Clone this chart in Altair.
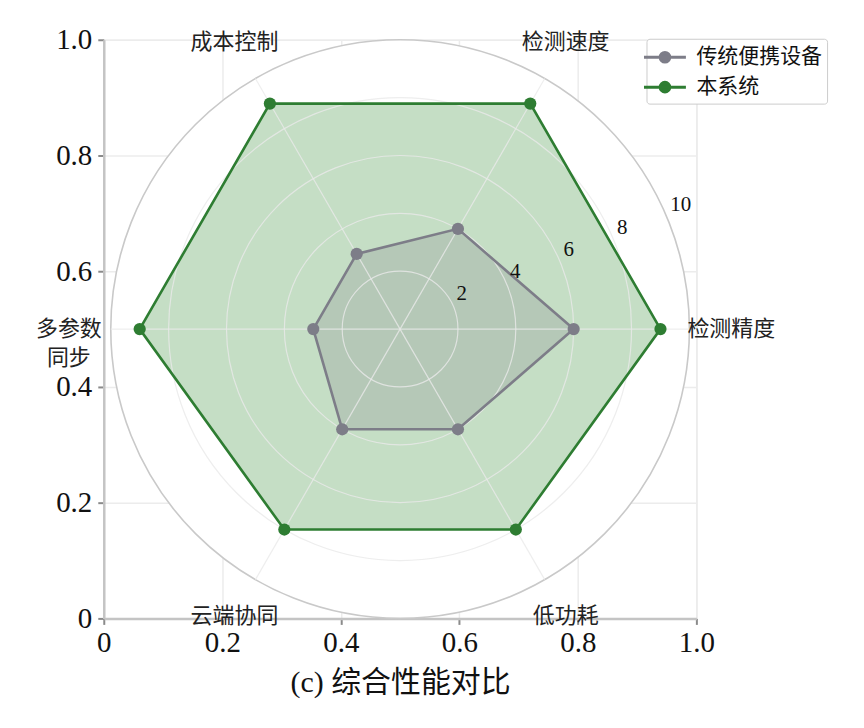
import altair as alt
import pandas as pd

# ---------------- data ----------------
categories = ["检测精度", "检测速度", "成本控制", "多参数\n同步", "云端协同", "低功耗"]
series_names = ["传统便携设备", "本系统"]
traditional = [6, 4, 3, 3, 4, 4]
ours = [9, 9, 9, 9, 8, 8]
radial_ticks = [2, 4, 6, 8, 10]
axis_ticks = [0, 0.2, 0.4, 0.6, 0.8, 1.0]
r_max = 10
chart_title = "(c) 综合性能对比"

# ---------------- style ----------------
W, H = 594, 580
R = 290          # polar radius (px)
LBL = 332        # category label radius (px)
kx, ky = R / W, R / H
N = len(categories)
line_colors = ["#7d7d88", "#2e7d32"]
fill_colors = ["#80808a", "#3e913e"]
SERIF = "Liberation Serif, Noto Sans CJK SC"
CJK = "Noto Sans CJK SC"

rows = []
for name, vals in zip(series_names, [traditional, ours]):
    for i, v in enumerate(vals):
        rows.append({"series": name, "idx": i, "value": v})
df = pd.DataFrame(rows)
cat_df = pd.DataFrame({"idx": list(range(N)), "label": categories})
tick_df = pd.DataFrame({"r": radial_ticks})

label_expr = "datum.value == 0 ? '0' : format(datum.value, '.1f')"
common_axis = dict(
    values=axis_ticks, labelExpr=label_expr, labelFont="Liberation Serif",
    labelFontSize=29, labelColor="#111111", tickSize=6, tickColor="#8a8a8a",
    tickWidth=2, domainColor="#c4c4c4", domainWidth=2.5, grid=True,
    gridColor="#ececec", gridWidth=1.5, labelFlush=False,
)
xaxis = alt.Axis(title=chart_title, titleFont=SERIF, titleFontSize=30,
                 titleFontWeight="normal", titleColor="#111111", titlePadding=10,
                 labelPadding=4, **common_axis)
yaxis = alt.Axis(title=None, labelPadding=6, **common_axis)
xs = alt.Scale(domain=[0, 1], nice=False, zero=False)
ys = alt.Scale(domain=[0, 1], nice=False, zero=False)
X = alt.X("x:Q", scale=xs, axis=xaxis)
Y = alt.Y("y:Q", scale=ys, axis=yaxis)

theta_expr = f"datum.idx * 2 * PI / {N}"
px_expr = f"0.5 + datum.value / {r_max} * {kx} * cos(datum.theta)"
py_expr = f"0.5 + datum.value / {r_max} * {ky} * sin(datum.theta)"
size_expr = f"pow(2 * datum.r / {r_max} * {R}, 2)"

# background polar disc (covers cartesian grid)
bg = alt.Chart(tick_df).transform_filter(f"datum.r == {r_max}").transform_calculate(
    x="0.5", y="0.5", sz=size_expr
).mark_circle(color="white", stroke="#c9c9c9", strokeWidth=1.6, opacity=1).encode(
    x=X, y=Y, size=alt.Size("sz:Q", scale=None, legend=None)
)

poly_base = alt.Chart(df).transform_calculate(theta=theta_expr).transform_calculate(
    x=px_expr, y=py_expr)

fills = []
for name, col, op in zip(series_names[::-1], fill_colors[::-1], [0.3, 0.23]):
    fills.append(
        poly_base.transform_filter(alt.datum.series == name).mark_line(
            interpolate="linear-closed", fill=col, fillOpacity=op, strokeOpacity=0
        ).encode(x=X, y=Y, order="idx:Q")
    )

# polar grid circles and spokes (drawn over fills)
grid_circles = alt.Chart(tick_df).transform_filter(f"datum.r < {r_max}").transform_calculate(
    x="0.5", y="0.5", sz=size_expr
).mark_point(shape="circle", filled=False, stroke="#eaeaea", strokeWidth=1.2,
             opacity=0.8).encode(
    x=X, y=Y, size=alt.Size("sz:Q", scale=None, legend=None)
)
spokes = alt.Chart(cat_df).transform_calculate(theta=theta_expr).transform_calculate(
    x="0.5", y="0.5",
    x2=f"0.5 + {kx} * cos(datum.theta)", y2=f"0.5 + {ky} * sin(datum.theta)"
).mark_rule(stroke="#eaeaea", strokeWidth=1.2, opacity=0.8).encode(
    x=X, y=Y, x2="x2:Q", y2="y2:Q"
)

legend = alt.Legend(
    title=None, orient="none", legendX=544, legendY=-1,
    symbolType="M-1.75,0L1.75,0M-0.4,0A0.4,0.4,0,1,1,0.4,0A0.4,0.4,0,1,1,-0.4,0Z",
    symbolSize=576, symbolStrokeWidth=3, labelFont=CJK, labelFontSize=21,
    labelColor="#111111", labelOffset=18, rowPadding=5, padding=5,
    strokeColor="#cccccc", fillColor="white", cornerRadius=3, labelLimit=300,
)
lines = poly_base.mark_line(interpolate="linear-closed", strokeWidth=2.6).encode(
    x=X, y=Y, order="idx:Q",
    stroke=alt.Stroke("series:N", scale=alt.Scale(domain=series_names, range=line_colors),
                      legend=legend),
)
points = poly_base.mark_point(filled=True, size=150, opacity=1, shape="circle").encode(
    x=X, y=Y,
    fill=alt.Fill("series:N", scale=alt.Scale(domain=series_names, range=line_colors),
                  legend=legend),
)

cat_text = alt.Chart(cat_df).transform_calculate(theta=theta_expr).transform_calculate(
    x=f"0.5 + {LBL / W} * cos(datum.theta)", y=f"0.5 + {LBL / H} * sin(datum.theta)"
).mark_text(font=CJK, fontSize=22, color="#222222", align="center", baseline="middle",
            lineBreak="\n", lineHeight=29).encode(x=X, y=Y, text="label:N")

r_text = alt.Chart(tick_df).transform_calculate(
    x=f"0.5 + datum.r / {r_max} * {kx} * cos(PI / 8)",
    y=f"0.5 + datum.r / {r_max} * {ky} * sin(PI / 8)",
).mark_text(font="Liberation Serif", fontSize=21, color="#111111", align="left",
            baseline="bottom", dx=3, dy=-3).encode(x=X, y=Y, text="r:Q")

chart = alt.layer(bg, *fills, grid_circles, spokes, lines, points, cat_text, r_text).properties(
    width=W, height=H,
    autosize=alt.AutoSizeParams(type="none"),
    padding={"left": 96, "top": 31, "right": 160, "bottom": 100},
).configure_view(stroke=None).configure(background="white")

chart.save("out.html", embed_options={"renderer": "svg", "actions": False})
